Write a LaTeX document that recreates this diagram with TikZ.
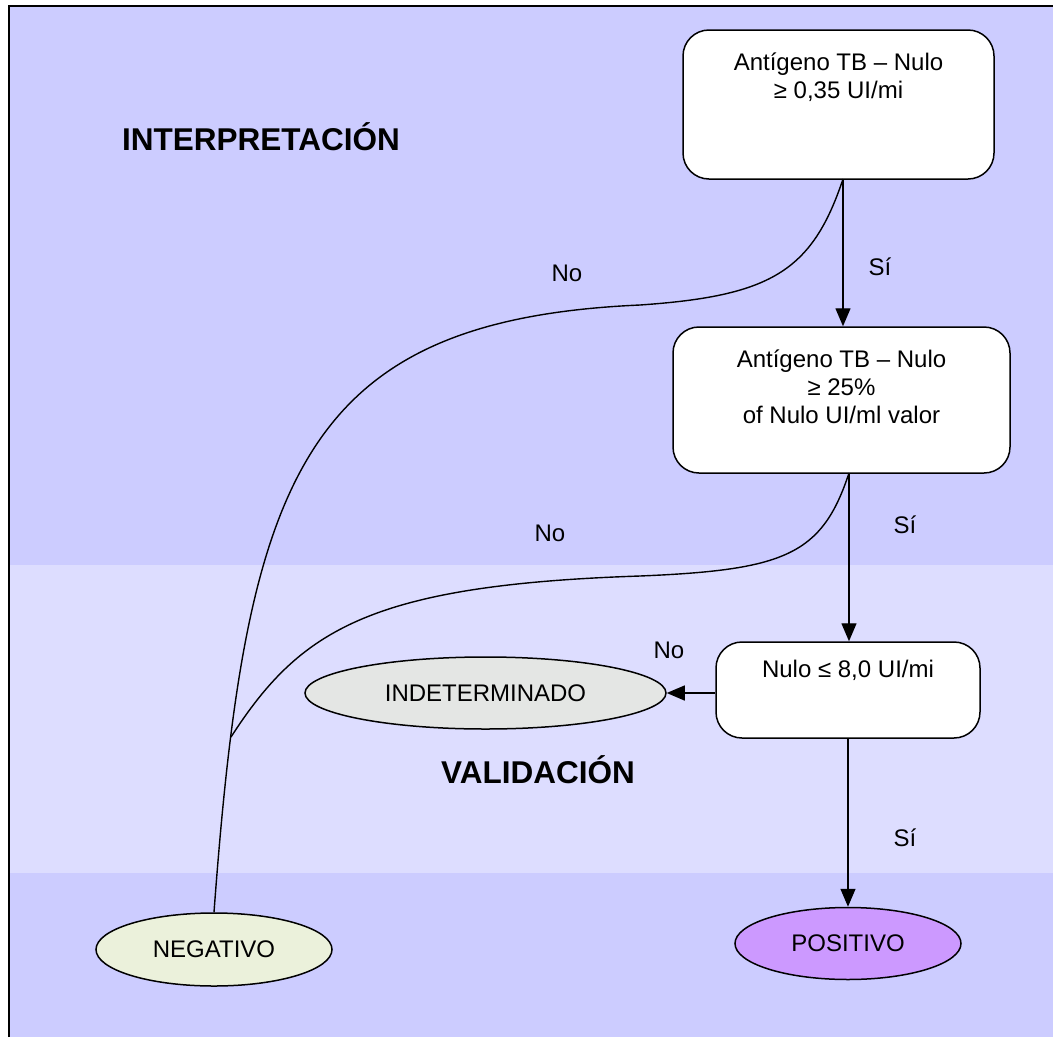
\documentclass[tikz,border=0pt]{standalone}
\usepackage{fontspec}
\setmainfont{Liberation Sans}
\usetikzlibrary{shapes.geometric,arrows.meta}
\definecolor{bgdark}{HTML}{CCCCFF}
\definecolor{bglight}{HTML}{DDDDFF}
\definecolor{indfill}{HTML}{E4E6E4}
\definecolor{negfill}{HTML}{EBF1DB}
\definecolor{posfill}{HTML}{CC99FF}
\tikzset{
  txt/.style={font=\fontsize{24}{28}\selectfont, align=center, inner sep=0pt},
  title/.style={font=\fontsize{31.5}{36}\selectfont\bfseries, inner sep=0pt},
  decbox/.style={draw=black, line width=1.5pt, fill=white, rounded corners=26pt, inner sep=0pt},
  result/.style={ellipse, draw=black, line width=1.5pt, inner sep=0pt, font=\fontsize{24}{28}\selectfont},
  conn/.style={line width=1.4pt},
  arr/.style={line width=1.4pt, -{Triangle[length=18pt,width=15pt]}},
}
\begin{document}
\begin{tikzpicture}[x=1pt,y=-1pt]
\useasboundingbox (0,0) rectangle (1053,1037);
% background
\fill[bgdark] (9,6) rectangle (1053,1037);
\fill[bglight] (9,565) rectangle (1053,873);
\draw[line width=2.6pt] (9,1037) -- (9,6) -- (1053,6);

% titles
\node[title] (tint) at (261,137) {INTERPRETACIÓN};
\node[title] (tval) at (538,770) {VALIDACIÓN};

% decision boxes
\node[decbox, minimum width=311pt, minimum height=149pt] (b1) at (838.5,104.5) {};
\node[txt] (t1) at (838.5,77) {Antígeno TB – Nulo\\≥ 0,35 UI/mi};
\node[decbox, minimum width=337pt, minimum height=146pt] (b2) at (841.5,400) {};
\node[txt] (t2) at (841.5,387) {Antígeno TB – Nulo\\≥ 25\%\\of Nulo UI/ml valor};
\node[decbox, minimum width=264pt, minimum height=96pt] (b3) at (848,690) {};
\node[txt] (t3) at (848,670) {Nulo ≤ 8,0 UI/mi};

% results
\node[result, fill=indfill, minimum width=361pt, minimum height=72pt] (ind) at (485.5,693) {INDETERMINADO};
\node[result, fill=negfill, minimum width=236pt, minimum height=73pt] (neg) at (214,949.5) {NEGATIVO};
\node[result, fill=posfill, minimum width=226pt, minimum height=72pt] (pos) at (848,943.5) {POSITIVO};

% connection points
\coordinate (s1) at (843,179);
\coordinate (s2) at (849,473);
\coordinate (j) at (231,737);

% arrows
\draw[arr] (s1) -- (s1 |- b2.north);
\draw[arr] (s2) -- (s2 |- b3.north);
\draw[arr] (b3.south) -- (pos.north);
\draw[arr] (ind.east -| b3.west) -- (ind.east);

% curved connectors
\draw[conn] (s1) .. controls (812,272) and (770,296) .. (640,305)
            .. controls (300,320) and (246,480) .. (neg.north);
\draw[conn] (s2) .. controls (822,555) and (785,570) .. (640,576)
            .. controls (370,585) and (300,630) .. (j);

% labels
\node[txt] (n1) at (567,273) {No};
\node[txt] (y1) at (880,267) {Sí};
\node[txt] (n2) at (550,533) {No};
\node[txt] (y2) at (905,525) {Sí};
\node[txt] (n3) at (669,650) {No};
\node[txt] (y3) at (905,838) {Sí};
\end{tikzpicture}
\end{document}
